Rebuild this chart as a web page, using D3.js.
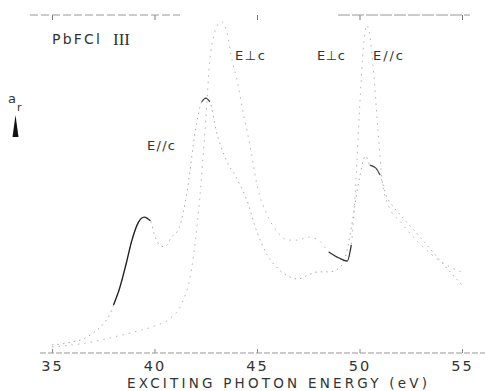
<!DOCTYPE html>
<html><head><meta charset="utf-8">
<script src="https://cdn.jsdelivr.net/npm/d3@7"></script>
<style>body{margin:0;background:#fff}svg{display:block}</style>
</head><body>
<svg id="c" width="485" height="391"></svg>
<script>
// Data (energy in eV, reflectance anisotropy in arbitrary units)
const energyPar = [35,35.5,36,36.5,37,37.5,37.8,38,38.3,38.6,38.9,39.2,39.5,39.8,40,40.3,40.5,40.8,41.2,41.6,42,42.3,42.5,42.7,43,43.5,44,44.5,45,45.5,46,46.5,47,47.5,48,48.5,49,49.4,49.7,50,50.3,50.5,50.8,51,51.3,51.7,52,53,54,55];
const valuePar  = [2.4,2.7,3.3,4.1,5.9,8.6,11.2,14.2,19.2,26.0,33.4,38.5,40.2,39.1,34.9,31.7,31.4,34.0,37.0,48.2,66.0,74.3,75.4,74.3,66.0,57.1,51.8,45.3,35.8,29.0,25.1,22.8,21.9,23.1,24.0,24.0,25.1,30.5,40.8,51.8,58.3,55.6,54.7,52.7,46.7,42.9,40.8,34.0,26.9,20.1];
const energyPerp = [35,36,37,38,39,40,40.8,41.3,41.8,42.2,42.5,42.7,42.9,43.1,43.3,43.5,43.8,44,44.3,44.7,45,45.5,46,46.5,47,47.5,48,48.5,49,49.4,49.6,49.8,50,50.2,50.35,50.5,50.7,50.9,51.1,51.4,52,53,54,55];
const valuePerp  = [1.8,2.4,3.3,4.7,6.2,8.0,10.4,14.2,24.6,45.3,68.9,86.7,94.1,97.3,97.9,95.6,86.1,81.4,71.9,60.1,49.7,40.8,35.8,33.4,33.4,34.3,33.4,29.9,28.1,27.2,32.0,48.2,71.9,91.1,97.0,94.1,82.2,66.0,51.2,43.8,38.8,32.0,26.9,23.9];
const xTicks = [35,40,45,50,55];
const xTickLabels = ["35","40","45","50","55"];
const title = "EXCITING  PHOTON  ENERGY  (eV)";

const svg = d3.select("#c");
const x = d3.scaleLinear().domain([35,55]).range([52,462]);
const y = d3.scaleLinear().domain([0,100]).range([353,15]);

// frame lines
const ax = svg.append("g").attr("transform","translate(0,353)")
  .call(d3.axisBottom(x).tickValues(xTicks).tickFormat((d,i)=>xTickLabels[i]).tickSize(-4).tickPadding(8));
ax.select(".domain").remove();
ax.selectAll(".tick line").attr("stroke","#888");
ax.selectAll(".tick text").attr("font-family","DejaVu Sans").attr("font-size",14.5).attr("fill","#333")
  .attr("y",17.5).attr("dy",0).attr("letter-spacing",2);
svg.append("line").attr("x1",40).attr("x2",485).attr("y1",353).attr("y2",353)
  .attr("stroke","#999").attr("stroke-width",1).attr("stroke-dasharray","6,2");
const topAx = svg.append("g").attr("transform","translate(0,15)")
  .call(d3.axisTop(x).tickValues(xTicks).tickFormat("").tickSize(-5));
topAx.select(".domain").remove();
topAx.selectAll(".tick line").attr("stroke","#777");
svg.append("line").attr("x1",30).attr("x2",180).attr("y1",15).attr("y2",15)
  .attr("stroke","#999").attr("stroke-dasharray","8,3");
svg.append("line").attr("x1",338).attr("x2",470).attr("y1",15).attr("y2",15)
  .attr("stroke","#999").attr("stroke-dasharray","12,2");

// curves
const line = d3.line().x(d=>x(d[0])).y(d=>y(d[1])).curve(d3.curveMonotoneX);
const par = energyPar.map((e,i)=>[e,valuePar[i]]);
const perp = energyPerp.map((e,i)=>[e,valuePerp[i]]);
svg.append("path").datum(par).attr("d",line).attr("fill","none")
  .attr("stroke","#aaa").attr("stroke-width",1).attr("stroke-dasharray","1.5,4");
svg.append("path").datum(perp).attr("d",line).attr("fill","none")
  .attr("stroke","#b4b4b4").attr("stroke-width",1).attr("stroke-dasharray","1.5,5");
// darker traced segments
svg.append("path").datum(par.filter(d=>d[0]>=38.0&&d[0]<=39.8)).attr("d",line).attr("fill","none")
  .attr("stroke","#222").attr("stroke-width",1.4);
svg.append("path").datum(par.filter(d=>d[0]>=42.3&&d[0]<=42.7)).attr("d",line).attr("fill","none")
  .attr("stroke","#444").attr("stroke-width",1.2);
svg.append("path").datum(perp.filter(d=>d[0]>=48.5&&d[0]<=49.6)).attr("d",line).attr("fill","none")
  .attr("stroke","#333").attr("stroke-width",1.3);
svg.append("path").datum(par.filter(d=>d[0]>=50.5&&d[0]<=51.0)).attr("d",line).attr("fill","none")
  .attr("stroke","#444").attr("stroke-width",1.2);

// texts
const T = (t,x0,y0,fs,len,fam)=>svg.append("text").attr("x",x0).attr("y",y0).text(t)
  .attr("font-family",fam||"DejaVu Sans").attr("font-size",fs).attr("fill","#333")
  .attr("textLength",len).attr("lengthAdjust","spacing");
T("PbFCl",52,44,14,48);
T("III",113,45,17,17,"Liberation Serif");
T("E\u22A5c",235,60,13,30);
T("E\u22A5c",317,60,13,28);
T("E//c",373,60,13,30);
T("E//c",147,150,13,28);
T(title,127,387.5,13.5,300);
// a_r label with arrow
svg.append("text").attr("x",8).attr("y",103).text("a").attr("font-family","DejaVu Sans").attr("font-size",13).attr("fill","#333");
svg.append("text").attr("x",17).attr("y",111).text("r").attr("font-family","DejaVu Sans").attr("font-size",11).attr("fill","#333");
svg.append("path").attr("d","M15.5,115 L18.5,137 L12.5,137 Z").attr("fill","#111");
</script>
</body></html>
